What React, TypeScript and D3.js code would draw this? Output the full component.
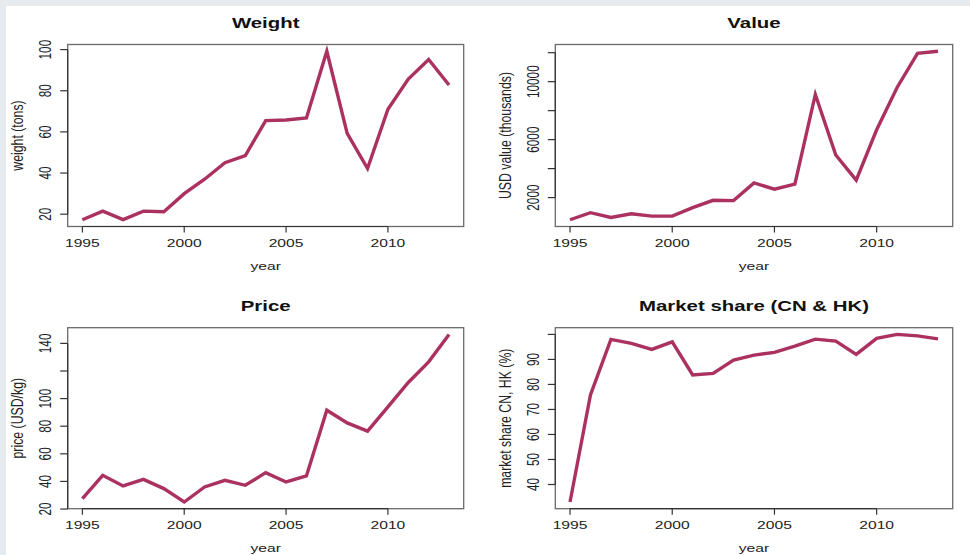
import React from "react";
import * as d3 from "d3";

const YEARS = [1995, 1996, 1997, 1998, 1999, 2000, 2001, 2002, 2003, 2004, 2005, 2006, 2007, 2008, 2009, 2010, 2011, 2012, 2013];
const WEIGHT = [17.3, 21.5, 17.4, 21.5, 21.2, 30, 37, 45, 48.5, 65.5, 65.8, 66.8, 99.2, 59.3, 42.2, 71, 85.7, 95.2, 82.8];
const VALUE = [470, 957, 630, 887, 720, 720, 1304, 1812, 1790, 3016, 2577, 2925, 9117, 4943, 3203, 6682, 9600, 11950, 12100];
const PRICE = [27.5, 44.4, 36.7, 41.5, 34.8, 25.1, 36, 40.8, 37.2, 46.4, 39.6, 44, 91.6, 82.4, 76.4, 94, 111.7, 126.6, 146.5];
const SHARE = [33, 75.8, 98, 96.4, 94, 97, 83.8, 84.4, 89.7, 91.7, 92.8, 95.3, 98.1, 97.3, 92, 98.4, 100, 99.4, 98.2];

const X_TICKS = [1995, 2000, 2005, 2010];
const WEIGHT_TICKS = [20, 40, 60, 80, 100];
const WEIGHT_LABELS = [20, 40, 60, 80, 100];
const VALUE_TICKS = [2000, 4000, 6000, 8000, 10000, 12000];
const VALUE_LABELS = [2000, 6000, 10000];
const PRICE_TICKS = [20, 40, 60, 80, 100, 120, 140];
const PRICE_LABELS = [20, 40, 60, 80, 100, 140];
const SHARE_TICKS = [40, 50, 60, 70, 80, 90, 100];
const SHARE_LABELS = [40, 50, 60, 70, 80, 90];

const TITLES = ["Weight", "Value", "Price", "Market share (CN & HK)"];
const YLABELS = ["weight (tons)", "USD value (thousands)", "price (USD/kg)", "market share CN, HK (%)"];
const XLABEL = "year";

const FONT = "'Liberation Sans', Arial, Helvetica, sans-serif";
const LINE_COLOR = "#ab3161";
const SX = 1.36;

type PanelProps = {
  values: number[];
  yTicks: number[];
  yLabels: number[];
  title: string;
  ylabel: string;
  left: number;
  right: number;
  top: number;
  bottom: number;
};

function rDomain(vals: number[]): [number, number] {
  const [mn, mx] = d3.extent(vals) as [number, number];
  const pad = (mx - mn) * 0.04;
  return [mn - pad, mx + pad];
}

function Panel({ values, yTicks, yLabels, title, ylabel, left, right, top, bottom }: PanelProps) {
  const x = d3.scaleLinear().domain(rDomain(YEARS)).range([left, right]);
  const y = d3.scaleLinear().domain(rDomain(values)).range([bottom, top]);
  const line = d3
    .line<number>()
    .x((_, i) => x(YEARS[i]))
    .y((d) => y(d));
  const cx = (left + right) / 2;
  const tickLabelX = left - 22;
  const axisLabelX = left - 50;
  const cy = (top + bottom) / 2;
  return (
    <g>
      <rect x={left} y={top} width={right - left} height={bottom - top} fill="none" stroke="#6a6a6a" strokeWidth={1.3} />
      <path d={line(values) || ""} fill="none" stroke={LINE_COLOR} strokeWidth={3.4} strokeLinejoin="miter" strokeMiterlimit={10} />
      <line x1={x(X_TICKS[0])} x2={x(X_TICKS[X_TICKS.length - 1])} y1={bottom} y2={bottom} stroke="#333" strokeWidth={1.2} />
      {X_TICKS.map((t) => (
        <g key={t}>
          <line x1={x(t)} x2={x(t)} y1={bottom} y2={bottom + 6} stroke="#333" strokeWidth={1.2} />
          <text
            transform={`translate(${x(t)},${bottom + 20}) scale(${SX},1)`}
            textAnchor="middle"
            fontSize={11.5}
            fontFamily={FONT}
            fill="#222"
          >
            {t}
          </text>
        </g>
      ))}
      <line x1={left} x2={left} y1={y(yTicks[0])} y2={y(yTicks[yTicks.length - 1])} stroke="#333" strokeWidth={1.2} />
      {yTicks.map((t) => (
        <line key={t} x1={left - 7.5} x2={left} y1={y(t)} y2={y(t)} stroke="#333" strokeWidth={1.2} />
      ))}
      {yLabels.map((t) => (
        <text
          key={t}
          transform={`translate(${tickLabelX},${y(t)}) scale(${SX},1) rotate(-90)`}
          textAnchor="middle"
          dominantBaseline="central"
          fontSize={11.8}
          fontFamily={FONT}
          fill="#222"
        >
          {t}
        </text>
      ))}
      <text
        transform={`translate(${cx},${top - 17}) scale(${SX},1)`}
        textAnchor="middle"
        fontSize={15}
        fontWeight="bold"
        fontFamily={FONT}
        fill="#111"
      >
        {title}
      </text>
      <text
        transform={`translate(${cx},${bottom + 43}) scale(${SX},1)`}
        textAnchor="middle"
        fontSize={11.5}
        fontFamily={FONT}
        fill="#222"
      >
        {XLABEL}
      </text>
      <text
        transform={`translate(${axisLabelX},${cy}) scale(${SX},1) rotate(-90)`}
        textAnchor="middle"
        dominantBaseline="central"
        fontSize={12.3}
        fontFamily={FONT}
        fill="#222"
      >
        {ylabel}
      </text>
    </g>
  );
}

export default function App() {
  const L = [67.7, 463.7];
  const R = [555.3, 952.7];
  const T = [44.5, 226.5];
  const B = [327.7, 508.7];
  return (
    <svg width={970} height={555} style={{ position: "absolute", left: 0, top: 0 }}>
      <rect x={0} y={0} width={970} height={555} fill="#e8ebee" />
      <rect x={6} y={6} width={964} height={549} fill="#ffffff" />
      <Panel values={WEIGHT} yTicks={WEIGHT_TICKS} yLabels={WEIGHT_LABELS} title={TITLES[0]} ylabel={YLABELS[0]} left={L[0]} right={L[1]} top={T[0]} bottom={T[1]} />
      <Panel values={VALUE} yTicks={VALUE_TICKS} yLabels={VALUE_LABELS} title={TITLES[1]} ylabel={YLABELS[1]} left={R[0]} right={R[1]} top={T[0]} bottom={T[1]} />
      <Panel values={PRICE} yTicks={PRICE_TICKS} yLabels={PRICE_LABELS} title={TITLES[2]} ylabel={YLABELS[2]} left={L[0]} right={L[1]} top={B[0]} bottom={B[1]} />
      <Panel values={SHARE} yTicks={SHARE_TICKS} yLabels={SHARE_LABELS} title={TITLES[3]} ylabel={YLABELS[3]} left={R[0]} right={R[1]} top={B[0]} bottom={B[1]} />
    </svg>
  );
}
